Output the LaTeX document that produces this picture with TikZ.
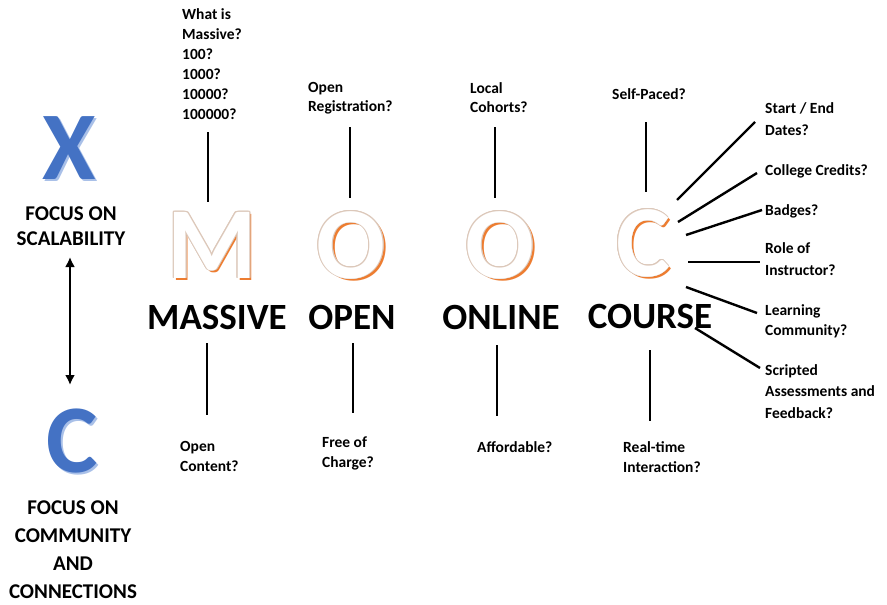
\documentclass[tikz,border=0pt]{standalone}
\usepackage{fontspec}
\setmainfont{Carlito}
\usetikzlibrary{arrows.meta}
\definecolor{moocorange}{HTML}{ED7D31}
\definecolor{mooctrim}{HTML}{DCC8BA}
\definecolor{moocblue}{HTML}{4472C4}
\definecolor{moocshade}{HTML}{A9C0E8}
\tikzstyle{ask}=[align=left, anchor=north west, inner sep=0pt,
                 font=\bfseries\fontsize{15.5}{20}\selectfont]
\tikzstyle{askwide}=[ask, font=\bfseries\fontsize{15.5}{22}\selectfont]
\tikzstyle{word}=[inner sep=0pt, font=\bfseries\fontsize{37}{40}\selectfont]
\tikzstyle{big}=[inner sep=0pt, font=\bfseries\fontsize{102}{110}\selectfont]
\tikzstyle{axis}=[inner sep=0pt, font=\bfseries\fontsize{97}{105}\selectfont]
\tikzstyle{focus}=[align=center, inner sep=0pt, font=\bfseries\fontsize{21}{25}\selectfont]
\tikzstyle{stem}=[line width=2.4pt]
\tikzstyle{ar}=[{Latex[length=10pt,width=10pt]}-{Latex[length=10pt,width=10pt]}, line width=2.6pt]

% white letter with a thin trim and an orange drop shadow
\newcommand{\hollowletter}[3]{%
  \node[big, text=moocorange, shift={(2.5pt,-2.5pt)}] at (#2) {#3};
  \foreach \a in {0,30,...,330}
    \node[big, text=mooctrim, shift={(\a:0.9pt)}] at (#2) {#3};
  \node[big, text=white] (#1) at (#2) {#3};
}

\begin{document}
\begin{tikzpicture}[x=1pt, y=-1pt]
    \useasboundingbox (0,0) rectangle (887,605);

    % left axis: X vs C
    \node[axis, text=moocshade, shift={(2pt,-2pt)}] at (69,148) {X};
    \node[axis, text=moocblue] (bigx) at (69,148) {X};
    \node[focus] (scal) at (71,226) {FOCUS ON\\SCALABILITY};
    \node[axis, text=moocshade, shift={(2pt,-2pt)}] at (72,441) {C};
    \node[axis, text=moocblue] (bigc) at (72,441) {C};
    \node[focus, font=\bfseries\fontsize{21}{28}\selectfont] (comm) at (73,550)
        {FOCUS ON\\COMMUNITY\\AND\\CONNECTIONS};
    \coordinate (axtop) at (70,257);
    \coordinate (axbot) at (70,385);
    \draw[ar] (axtop)--(axbot);

    % the four letters
    \hollowletter{lm}{212,245}{M}
    \hollowletter{lo}{351,245}{O}
    \hollowletter{ln}{500,245}{O}
    \hollowletter{lc}{643,243}{C}

    \node[word] (massive) at (217,317) {MASSIVE};
    \node[word] (open)    at (352,317) {OPEN};
    \node[word] (online)  at (501,317) {ONLINE};
    \node[word] (course)  at (650,317) {COURSE};

    % questions above
    \node[ask] (qmass) at (182,8) {What is\\Massive?\\100?\\1000?\\10000?\\100000?};
    \node[ask, font=\bfseries\fontsize{15.5}{19}\selectfont] (qreg) at (308,82) {Open\\Registration?};
    \node[ask, font=\bfseries\fontsize{15.5}{19}\selectfont] (qcoh) at (470,82) {Local\\Cohorts?};
    \node[ask] (qpace) at (612,88) {Self-Paced?};

    % questions below
    \node[ask] (qcont) at (180,441) {Open\\Content?};
    \node[ask] (qfree) at (322,437) {Free of\\Charge?};
    \node[ask] (qaff)  at (477,441) {Affordable?};
    \node[ask] (qreal) at (623,441) {Real-time\\Interaction?};

    % questions fanned out from the C
    \node[askwide] (qdate)  at (765,102) {Start / End\\Dates?};
    \node[ask]     (qcred)  at (765,164) {College Credits?};
    \node[ask]     (qbadge) at (765,204) {Badges?};
    \node[askwide] (qrole)  at (765,242) {Role of\\Instructor?};
    \node[ask]     (qlearn) at (765,304) {Learning\\Community?};
    \node[ask, font=\bfseries\fontsize{15.5}{21.5}\selectfont] (qscript) at (765,364)
        {Scripted\\Assessments and\\Feedback?};

    % stem ends
    \coordinate (mup1) at (208,132);  \coordinate (mup2) at (208,202);
    \coordinate (oup1) at (350,127);  \coordinate (oup2) at (350,198);
    \coordinate (nup1) at (495,127);  \coordinate (nup2) at (495,198);
    \coordinate (cup1) at (646,122);  \coordinate (cup2) at (646,192);
    \coordinate (mdn1) at (207,343);  \coordinate (mdn2) at (207,415);
    \coordinate (odn1) at (353,343);  \coordinate (odn2) at (353,413);
    \coordinate (ndn1) at (497,345);  \coordinate (ndn2) at (497,416);
    \coordinate (cdn1) at (650,350);  \coordinate (cdn2) at (650,421);
    \draw[stem] (mup1)--(mup2);
    \draw[stem] (oup1)--(oup2);
    \draw[stem] (nup1)--(nup2);
    \draw[stem] (cup1)--(cup2);
    \draw[stem] (mdn1)--(mdn2);
    \draw[stem] (odn1)--(odn2);
    \draw[stem] (ndn1)--(ndn2);
    \draw[stem] (cdn1)--(cdn2);

    % rays from the C
    \coordinate (r1a) at (677,200);  \coordinate (r1b) at (755,122);
    \coordinate (r2a) at (678,222);  \coordinate (r2b) at (757,173);
    \coordinate (r3a) at (686,235);  \coordinate (r3b) at (762,210);
    \coordinate (r4a) at (688,262);  \coordinate (r4b) at (760,262);
    \coordinate (r5a) at (686,287);  \coordinate (r5b) at (757,313);
    \coordinate (r6a) at (695,328);  \coordinate (r6b) at (760,368);
    \draw[stem] (r1a)--(r1b);
    \draw[stem] (r2a)--(r2b);
    \draw[stem] (r3a)--(r3b);
    \draw[stem] (r4a)--(r4b);
    \draw[stem] (r5a)--(r5b);
    \draw[stem] (r6a)--(r6b);
\end{tikzpicture}
\end{document}
